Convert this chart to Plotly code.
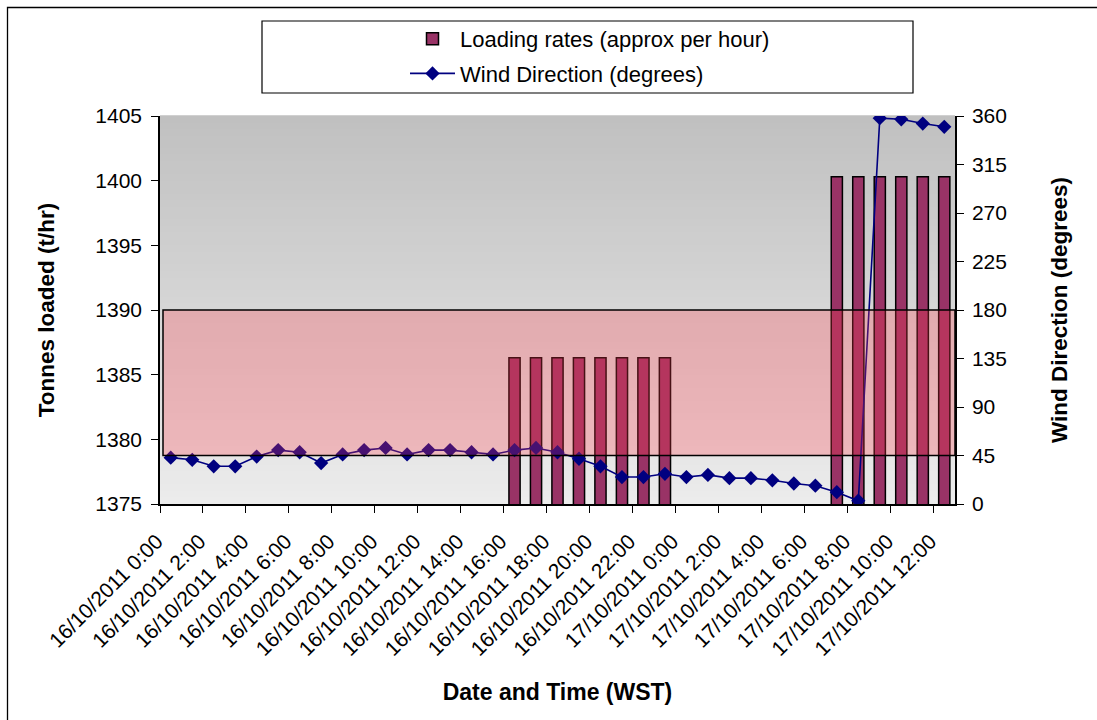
import plotly.graph_objects as go

# ---------------- data ----------------
times = ([f"16/10/2011 {h}:00" for h in range(24)] +
         [f"17/10/2011 {h}:00" for h in range(13)])

loading_rates = [None, None, None, None, None, None, None, None,
                 None, None, None, None, None, None, None, None,
                 1386.3, 1386.3, 1386.3, 1386.3, 1386.3, 1386.3, 1386.3, 1386.3,
                 None, None, None, None, None, None, None,
                 1400.3, 1400.3, 1400.3, 1400.3, 1400.3, 1400.3]

wind_direction = [43, 41, 35, 35, 44, 50, 48, 38, 46, 50, 52, 46, 50, 50, 48, 46,
                  50, 52, 48, 42, 35, 25, 25, 28, 25, 27, 24, 24, 22, 19, 17, 11,
                  3, 358, 357, 353, 350]

left_ticks = [1375, 1380, 1385, 1390, 1395, 1400, 1405]
right_ticks = [0, 45, 90, 135, 180, 225, 270, 315, 360]
band_range = [45, 180]   # shaded wind-direction band (degrees)

FONT = "Liberation Sans, Arial, sans-serif"

# ---------------- figure ----------------
fig = go.Figure()

fig.add_trace(go.Bar(
    x=times, y=loading_rates, name="Loading rates (approx per hour)",
    marker=dict(color="#993366", line=dict(color="black", width=1.5)),
    legendgroup="a", yaxis="y",
))

fig.add_trace(go.Scatter(
    x=times, y=wind_direction, name="Wind Direction (degrees)",
    mode="lines+markers", yaxis="y2", legendgroup="b",
    line=dict(color="#000080", width=1.6),
    marker=dict(symbol="diamond", size=11, color="#000080"),
))

L, R, T, B = 160, 142, 116, 216
W, H = 1097, 720
pw, ph = W - L - R, H - T - B

def px_x(px):
    return (px - L) / pw

def px_y(py):
    return (H - B - py) / ph

shapes = []
# gradient plot background
n = 60
top_c, bot_c = 192, 236
for i in range(n):
    f0, f1 = i / n, (i + 1) / n
    c = round(bot_c + (top_c - bot_c) * (f0 + f1) / 2)
    shapes.append(dict(type="rect", xref="paper", yref="paper",
                       x0=0, x1=1, y0=f0, y1=f1 + 0.002,
                       fillcolor=f"rgb({c},{c},{c})", line=dict(width=0),
                       layer="below"))
# pink band (semi-transparent, drawn above bars)
shapes.append(dict(type="rect", xref="paper", yref="y2",
                   x0=px_x(163), x1=1, y0=band_range[0], y1=band_range[1],
                   fillcolor="rgb(255,60,75)", opacity=0.28,
                   line=dict(width=0), layer="above"))
shapes.append(dict(type="rect", xref="paper", yref="y2",
                   x0=px_x(163), x1=1, y0=band_range[0], y1=band_range[1],
                   fillcolor="rgba(0,0,0,0)",
                   line=dict(color="black", width=1.5), layer="above"))
# legend frame
shapes.append(dict(type="rect", xref="paper", yref="paper",
                   x0=px_x(262), x1=px_x(913), y0=px_y(93), y1=px_y(21),
                   fillcolor="white", line=dict(color="black", width=1.2),
                   layer="below"))
# outer chart border
shapes.append(dict(type="rect", xref="paper", yref="paper",
                   x0=px_x(7.5), x1=px_x(1110), y0=px_y(740), y1=px_y(7.5),
                   fillcolor="rgba(0,0,0,0)", line=dict(color="black", width=1.3),
                   layer="below"))

fig.update_layout(
    width=W, height=H,
    margin=dict(l=L, r=R, t=T, b=B, autoexpand=False),
    paper_bgcolor="white", plot_bgcolor="white",
    font=dict(family=FONT, size=20, color="black"),
    bargap=0.48,
    shapes=shapes,
    showlegend=True,
    legend=dict(x=px_x(405), y=px_y(18), xanchor="left", yanchor="top",
                font=dict(size=22, family=FONT), bgcolor="rgba(0,0,0,0)",
                traceorder="grouped", tracegroupgap=3, itemwidth=45),
    xaxis=dict(
        type="category", range=[-0.5, 36.5],
        tickmode="linear", tick0=0, dtick=2, tickson="boundaries",
        tickangle=-45, ticks="outside", ticklen=7, tickcolor="black",
        ticklabelstandoff=15, ticklabelshift=-14,
        showline=True, linecolor="black", linewidth=1.5,
        showgrid=False, zeroline=False,
        tickfont=dict(size=21, family=FONT),
        title=dict(text="<b>Date and Time (WST)</b>", standoff=25,
                   font=dict(size=23, family=FONT)),
    ),
    yaxis=dict(
        range=[left_ticks[0], left_ticks[-1]], tickvals=left_ticks,
        ticks="outside", ticklen=7, tickcolor="black", ticklabelstandoff=5,
        showline=True, linecolor="black", linewidth=1.5,
        showgrid=False, zeroline=False,
        tickfont=dict(size=21, family=FONT),
        title=dict(text="<b>Tonnes loaded (t/hr)</b>", standoff=34,
                   font=dict(size=22.5, family=FONT)),
    ),
    yaxis2=dict(
        overlaying="y", side="right",
        range=[right_ticks[0], right_ticks[-1]], tickvals=right_ticks,
        ticks="outside", ticklen=7, tickcolor="black", ticklabelstandoff=4,
        showline=True, linecolor="black", linewidth=1.5,
        showgrid=False, zeroline=False,
        tickfont=dict(size=21, family=FONT),
        title=dict(text="<b>Wind Direction (degrees)</b>", standoff=45,
                   font=dict(size=22.5, family=FONT)),
    ),
)

fig.write_html("out.html", config={"displayModeBar": False},
               post_script="document.body.style.margin='0px';")
